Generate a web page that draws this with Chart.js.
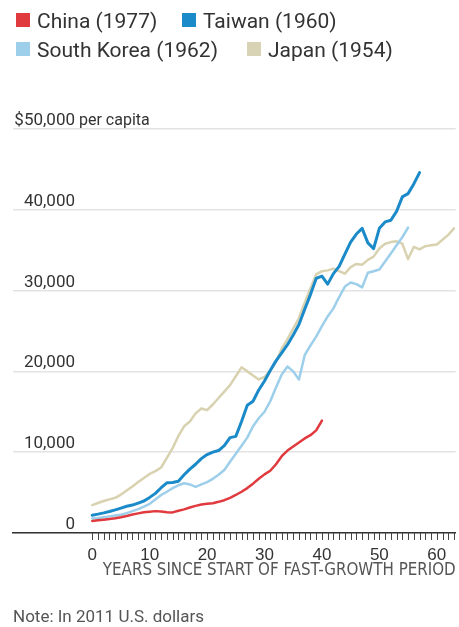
<!DOCTYPE html>
<html>
<head>
<meta charset="utf-8">
<script src="https://cdn.jsdelivr.net/npm/chart.js@4/dist/chart.umd.min.js"></script>
<style>
  body { margin: 0; background: #fff; font-family: Roboto, 'Open Sans', sans-serif; }
  #wrap { position: relative; width: 459px; height: 627px; overflow: hidden; }
  #chart { position: absolute; left: 0; top: 0; }
  .legend { position: absolute; left: 0; top: 0; color: #333; font-size: 21px; }
  .item { position: absolute; white-space: nowrap; line-height: 24px; }
  .item i { position: absolute; left: -21px; top: 4px; width: 14px; height: 14px; }
  .note { position: absolute; left: 13px; top: 606px; color: #555; font-size: 17px; }
</style>
</head>
<body>
<div id="wrap">
  <canvas id="chart" width="459" height="627"></canvas>
  <div class="legend">
    <div class="item" style="left:37px; top:9px"><i style="background:#e03a3e"></i>China (1977)</div>
    <div class="item" style="left:203px; top:9px"><i style="background:#1b8ac8"></i>Taiwan (1960)</div>
    <div class="item" style="left:37px; top:38px"><i style="background:#9dcfea"></i>South Korea (1962)</div>
    <div class="item" style="left:268px; top:38px"><i style="background:#d8d3b4"></i>Japan (1954)</div>
  </div>
  <div class="note">Note: In 2011 U.S. dollars</div>
</div>
<script>
// years since start of fast-growth period
const years = [0, 1, 2, 3, 4, 5, 6, 7, 8, 9, 10, 11, 12, 13, 14, 15, 16, 17, 18, 19, 20,
  21, 22, 23, 24, 25, 26, 27, 28, 29, 30, 31, 32, 33, 34, 35, 36, 37, 38, 39, 40,
  41, 42, 43, 44, 45, 46, 47, 48, 49, 50, 51, 52, 53, 54, 55, 56, 57, 58, 59, 60,
  61, 62, 63];

// GDP per capita, 2011 U.S. dollars
const china = [1490, 1560, 1640, 1730, 1820, 1950, 2100, 2280, 2420, 2550, 2620,
  2700, 2650, 2560, 2540, 2750, 2920, 3150, 3350, 3520, 3600,
  3680, 3850, 4050, 4350, 4700, 5100, 5550, 6100, 6700, 7250,
  7700, 8500, 9500, 10200, 10700, 11200, 11700, 12100, 12700, 13900];

const taiwan = [2200, 2330, 2480, 2650, 2850, 3070, 3300, 3450, 3700, 3950, 4400,
  4900, 5600, 6200, 6250, 6400, 7200, 7900, 8500, 9200, 9700,
  10000, 10200, 10800, 11800, 11950, 13800, 15800, 16300, 17700, 18800,
  20100, 21300, 22300, 23300, 24500, 25800, 27700, 29500, 31500, 31800,
  30800, 32100, 33000, 34500, 36000, 37000, 37700, 35900, 35200, 37700,
  38500, 38700, 39800, 41600, 42000, 43200, 44600];

const southKorea = [1800, 1850, 1950, 2050, 2150, 2250, 2450, 2700, 2950, 3250, 3600,
  4150, 4700, 5100, 5550, 5900, 6150, 6000, 5700, 6000, 6300,
  6700, 7200, 7800, 8800, 9800, 10800, 11800, 13200, 14200, 15000,
  16300, 18000, 19600, 20600, 20000, 19000, 22000, 23200, 24300, 25600,
  26800, 27800, 29200, 30500, 31000, 30800, 30400, 32200, 32400, 32600,
  33600, 34600, 35600, 36600, 37800];

const japan = [3450, 3700, 3950, 4150, 4350, 4750, 5250, 5750, 6300, 6800, 7300,
  7650, 8100, 9300, 10500, 12000, 13200, 13800, 14800, 15400, 15200,
  15900, 16700, 17500, 18300, 19400, 20500, 20000, 19500, 19000, 19300,
  20100, 21200, 22800, 24000, 25300, 26600, 28500, 30300, 32000, 32400,
  32500, 32700, 32400, 32100, 32900, 33300, 33200, 33800, 34200, 35200,
  35800, 36000, 36100, 35800, 33900, 35400, 35100, 35500, 35600, 35700,
  36300, 36900, 37700];

const yTicks = [0, 10000, 20000, 30000, 40000, 50000];
const yTickLabels = ['0', '10,000', '20,000', '30,000', '40,000', '$50,000'];
const xLabelEvery = 10;

function toPoints(values) {
  return values.map(function (v, i) { return { x: years[i], y: v }; });
}

// y labels sit above the gridlines, right aligned; small yearly ticks under the x axis
const axisExtras = {
  id: 'axisExtras',
  afterDraw: function (chart) {
    const ctx = chart.ctx;
    const x = chart.scales.x;
    const y = chart.scales.y;
    const bottom = chart.chartArea.bottom;
    ctx.save();
    ctx.strokeStyle = '#444';
    ctx.lineWidth = 1;
    years.forEach(function (yr) {
      const px = Math.round(x.getPixelForValue(yr)) + 0.5;
      ctx.beginPath();
      ctx.moveTo(px, bottom);
      ctx.lineTo(px, bottom + 7);
      ctx.stroke();
    });
    ctx.font = '17px Roboto';
    ctx.fillStyle = '#333';
    ctx.textBaseline = 'alphabetic';
    yTicks.forEach(function (v, i) {
      const py = y.getPixelForValue(v);
      ctx.textAlign = 'right';
      ctx.fillText(yTickLabels[i], 75, py - 4);
      if (i === yTicks.length - 1) {
        ctx.textAlign = 'left';
        ctx.font = '16px Roboto';
        ctx.fillText('per capita', 79, py - 4);
      }
    });
    ctx.restore();
  }
};

new Chart(document.getElementById('chart'), {
  type: 'line',
  data: {
    datasets: [
      { label: 'China (1977)', data: toPoints(china), borderColor: '#e03a3e', borderWidth: 2.5 },
      { label: 'Taiwan (1960)', data: toPoints(taiwan), borderColor: '#1b8ac8', borderWidth: 3 },
      { label: 'South Korea (1962)', data: toPoints(southKorea), borderColor: '#9dcfea', borderWidth: 2.5 },
      { label: 'Japan (1954)', data: toPoints(japan), borderColor: '#d8d2b0', borderWidth: 2.5 }
    ]
  },
  options: {
    responsive: false,
    animation: false,
    events: [],
    elements: { point: { radius: 0 }, line: { tension: 0, borderJoinStyle: 'round', borderCapStyle: 'round' } },
    layout: { padding: { top: 129, left: 13, right: 0, bottom: 46.5 } },
    plugins: { legend: { display: false }, tooltip: { enabled: false } },
    scales: {
      x: {
        type: 'linear',
        min: -13.8,
        max: 63.3,
        afterBuildTicks: function (scale) {
          scale.ticks = years.map(function (v) { return { value: v }; });
        },
        ticks: {
          autoSkip: false,
          maxRotation: 0,
          padding: 5,
          color: '#333',
          font: { size: 17 },
          callback: function (v) { return v % xLabelEvery === 0 ? String(v) : ''; }
        },
        grid: { display: false, tickLength: 7 },
        border: { display: true, color: '#333', width: 1.5 },
        title: {
          display: true,
          text: 'YEARS SINCE START OF FAST-GROWTH PERIOD',
          align: 'end',
          color: '#555',
          font: { size: 16.8, family: "'Liberation Sans Narrow', 'DejaVu Sans Condensed', Roboto" },
          padding: { top: -10, bottom: 0 }
        }
      },
      y: {
        min: 0,
        max: 50000,
        afterBuildTicks: function (scale) {
          scale.ticks = yTicks.map(function (v) { return { value: v }; });
        },
        ticks: { display: false },
        grid: { color: '#e3e3e3', lineWidth: 1.5, drawTicks: false },
        border: { display: false }
      }
    }
  },
  plugins: [axisExtras]
});
</script>
</body>
</html>
